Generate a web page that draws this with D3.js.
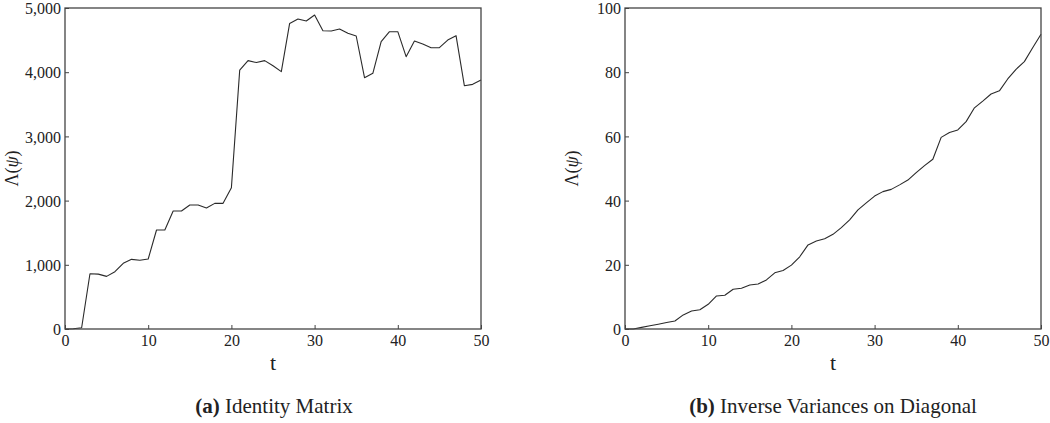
<!DOCTYPE html>
<html>
<head>
<meta charset="utf-8">
<script src="https://cdn.jsdelivr.net/npm/d3@7"></script>
<style>
  html, body { margin: 0; padding: 0; background: #fff; }
  svg { display: block; }
  text { font-family: "Liberation Serif", "DejaVu Serif", serif; fill: #222; }
</style>
</head>
<body>
<svg id="chart" width="1050" height="423"></svg>
<script>
// ---- Data ----
const tValues = d3.range(0, 51);
const identityValues = [
  0, 5, 20, 860, 855, 820, 893, 1023, 1085, 1070,
  1090, 1542, 1542, 1838, 1838, 1931, 1931, 1885, 1957, 1957,
  2201, 4034, 4180, 4150, 4180, 4100, 4009, 4760, 4829, 4798,
  4891, 4646, 4642, 4673, 4606, 4564, 3915, 3983, 4475, 4631,
  4631, 4242, 4486, 4439, 4382, 4382, 4500, 4569, 3790, 3811,
  3879
];
const inverseVarValues = [
  0, 0, 0.5, 1.0, 1.5, 2.0, 2.5, 4.4, 5.6, 6.0,
  7.7, 10.3, 10.5, 12.4, 12.7, 13.7, 14.0, 15.3, 17.5, 18.2,
  19.9, 22.5, 26.2, 27.4, 28.1, 29.5, 31.6, 34.0, 37.1, 39.3,
  41.4, 42.8, 43.5, 44.9, 46.4, 48.7, 50.9, 52.9, 59.7, 61.2,
  62.0, 64.6, 68.9, 71.0, 73.2, 74.2, 77.9, 80.9, 83.3, 87.6,
  91.8
];
const xTicks = [0, 10, 20, 30, 40, 50];
const yTicksA = [0, 1000, 2000, 3000, 4000, 5000];
const yTicksB = [0, 20, 40, 60, 80, 100];
const captionLabels = ["(a)", "(b)"];
const captionTexts = ["Identity Matrix", "Inverse Variances on Diagonal"];

const svg = d3.select("#chart");

function panel(cfg) {
  const g = svg.append("g");
  const x = d3.scaleLinear().domain([0, 50]).range([cfg.x0, cfg.x1]);
  const y = d3.scaleLinear().domain(cfg.yDomain).range([cfg.y1, cfg.y0]);

  const line = d3.line().x((d, i) => x(tValues[i])).y(d => y(d));
  g.append("path").datum(cfg.values)
    .attr("d", line)
    .attr("fill", "none")
    .attr("stroke", "#2a2a2a")
    .attr("stroke-width", 1.1)
    .attr("stroke-linejoin", "round");

  const yAxis = d3.axisLeft(y).tickValues(cfg.yTicks).tickSize(-4).tickPadding(4).tickFormat(cfg.fmt);
  const xAxis = d3.axisBottom(x).tickValues(xTicks).tickSize(-4).tickPadding(5).tickFormat(d3.format("d"));

  const ya = g.append("g").attr("transform", `translate(${cfg.x0},0)`).call(yAxis);
  const xa = g.append("g").attr("transform", `translate(0,${cfg.y1})`).call(xAxis);
  [ya, xa].forEach(a => {
    a.select(".domain").remove();
    a.selectAll(".tick line").attr("stroke", "#444").attr("stroke-width", 1);
    a.selectAll(".tick text").style("font-size", "16px").attr("fill", "#222");
  });
  ya.selectAll(".tick text").attr("dy", "0.35em");
  xa.selectAll(".tick text").attr("dy", "0.72em");

  g.append("rect")
    .attr("x", cfg.x0).attr("y", cfg.y0)
    .attr("width", cfg.x1 - cfg.x0).attr("height", cfg.y1 - cfg.y0)
    .attr("fill", "none").attr("stroke", "#444").attr("stroke-width", 1.3);

  g.append("text")
    .attr("x", (cfg.x0 + cfg.x1) / 2).attr("y", 370)
    .attr("text-anchor", "middle")
    .style("font-size", "22px")
    .text("t");

  const yl = g.append("text")
    .attr("transform", `translate(${cfg.yLabelX},${(cfg.y0 + cfg.y1) / 2}) rotate(-90)`)
    .attr("text-anchor", "middle")
    .style("font-size", "18px");
  yl.append("tspan").text("Λ(");
  yl.append("tspan").style("font-style", "italic").text("ψ");
  yl.append("tspan").text(")");

  const cap = g.append("text")
    .attr("x", cfg.capX).attr("y", 413)
    .attr("text-anchor", "middle")
    .style("font-size", "21px");
  cap.append("tspan").style("font-weight", "bold").text(cfg.capLabel + " ");
  cap.append("tspan").text(cfg.capText);
}

panel({
  x0: 65, x1: 481, y0: 8, y1: 329,
  yDomain: [0, 5000], yTicks: yTicksA, values: identityValues,
  fmt: d3.format(","), yLabelX: 18, capX: 274,
  capLabel: captionLabels[0], capText: captionTexts[0]
});
panel({
  x0: 625, x1: 1041, y0: 8, y1: 329,
  yDomain: [0, 100], yTicks: yTicksB, values: inverseVarValues,
  fmt: d3.format("d"), yLabelX: 578, capX: 833,
  capLabel: captionLabels[1], capText: captionTexts[1]
});
</script>
</body>
</html>
